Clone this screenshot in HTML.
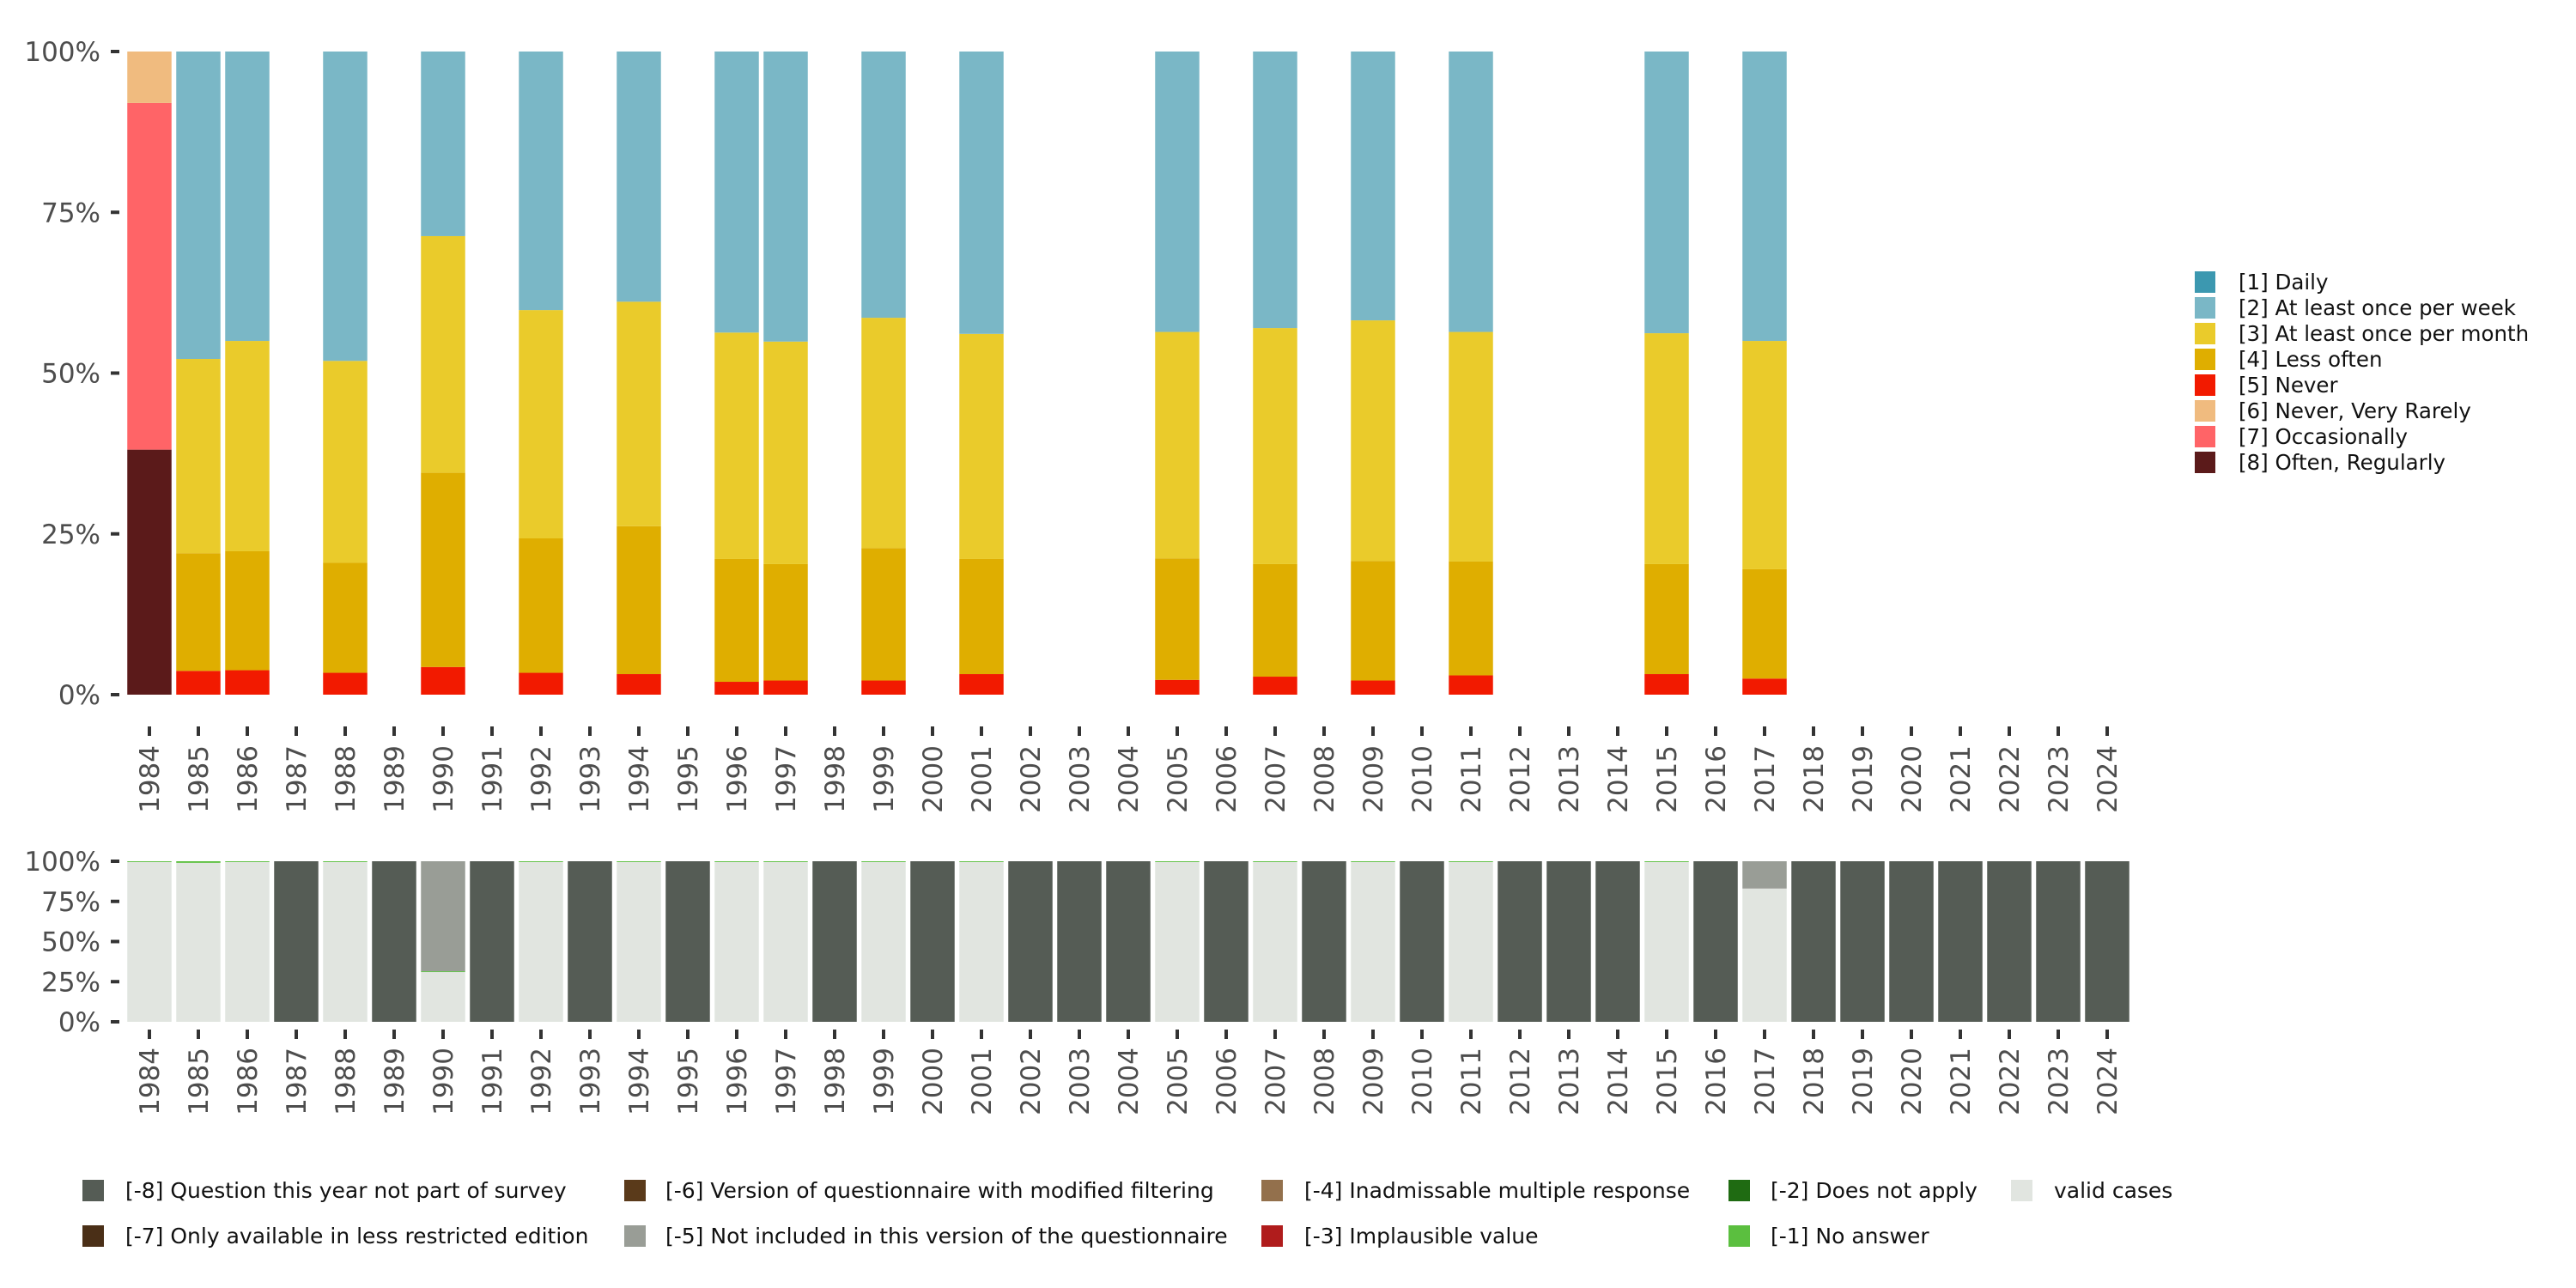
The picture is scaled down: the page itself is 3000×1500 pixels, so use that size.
<!DOCTYPE html>
<html><head><meta charset="utf-8"><style>
html,body{margin:0;padding:0;background:#fff;}
svg{display:block;font-family:"DejaVu Sans","Liberation Sans",sans-serif;}
</style></head><body>
<svg id="chart" width="3000" height="1500" viewBox="0 0 3000 1500" xmlns="http://www.w3.org/2000/svg">
<g id="top"></g>
<g id="bottom"></g>
<g id="legR"></g>
<g id="legB"></g>
</svg>
<script>
const years = [];
for (let y = 1984; y <= 2024; y++) years.push(y);
const topYears = [1984,1985,1986,1988,1990,1992,1994,1996,1997,1999,2001,2005,2007,2009,2011,2015,2017];
const sNever =      [0,3.7,3.8,3.4,4.3,3.4,3.2,2.0,2.2,2.2,3.2,2.3,2.8,2.2,3.0,3.2,2.5];
const sLessOften =  [0,18.3,18.5,17.1,30.2,20.9,23.0,19.1,18.1,20.6,17.9,18.9,17.5,18.6,17.7,17.1,17.0];
const sMonth =      [0,30.2,32.7,31.4,36.8,35.5,34.9,35.2,34.6,35.8,35.0,35.2,36.7,37.4,35.7,35.9,35.5];
const sWeek =       [0,47.8,45.0,48.1,28.7,40.2,38.9,43.7,45.1,41.4,43.9,43.6,43.0,41.8,43.6,43.8,45.0];
const sOften =      [38.1,0,0,0,0,0,0,0,0,0,0,0,0,0,0,0,0];
const sOccas =      [53.9,0,0,0,0,0,0,0,0,0,0,0,0,0,0,0,0];
const sRarely =     [8.0,0,0,0,0,0,0,0,0,0,0,0,0,0,0,0,0];
const validYears = [1984,1985,1986,1988,1990,1992,1994,1996,1997,1999,2001,2005,2007,2009,2011,2015,2017];
const validPct =   [99.5,99,99.5,99.5,31,99.5,99.5,99.5,99.5,99.5,99.5,99.5,99.5,99.5,99.5,99.5,83];
const noAnswerPct= [0.5,1,0.5,0.5,0.5,0.5,0.5,0.5,0.5,0.5,0.5,0.5,0.5,0.5,0.5,0.5,0];
const notInclPct = [0,0,0,0,68.5,0,0,0,0,0,0,0,0,0,0,0,17];
const yTicks = [0,25,50,75,100];
const yTickLabels = ["0%","25%","50%","75%","100%"];

const NS="http://www.w3.org/2000/svg";
function mk(tag, attrs, parent){const e=document.createElementNS(NS,tag);for(const k in attrs)e.setAttribute(k,attrs[k]);parent.appendChild(e);return e;}
const xC = y => 174 + (y-1984)*57;
const BW = 51.5;
const yTop = v => 809 - v*7.49;
const yBot = v => 1190 - v*1.87;

const topG=document.getElementById('top');
const botG=document.getElementById('bottom');

const stackOrder=[["never",sNever,"#f21a00"],["less-often",sLessOften,"#dfae00"],["month",sMonth,"#eacb2b"],["week",sWeek,"#7ab7c6"],["often",sOften,"#5b1a1a"],["occasionally",sOccas,"#ff6467"],["rarely",sRarely,"#f0bb7f"]];
topYears.forEach((yr,i)=>{
  let cum=0;
  const seq = [stackOrder[4],stackOrder[5],stackOrder[6],stackOrder[0],stackOrder[1],stackOrder[2],stackOrder[3]];
  seq.forEach(s=>{
    const v=s[1][i]; if(!v) return;
    const r=mk('rect',{x:xC(yr)-BW/2,y:yTop(cum+v),width:BW,height:yTop(cum)-yTop(cum+v),fill:s[2]},topG);
    
    
    cum+=v;
  });
});
function axes(g, yf, tickY, labY){
  yTicks.forEach((t,i)=>{
    const tk=mk('rect',{x:129,y:yf(t)-2,width:10,height:4,fill:'#333'},g);
    
    
    const tx=mk('text',{x:117,y:yf(t)+11,'text-anchor':'end','font-size':31,fill:'#4d4d4d'},g);
    tx.textContent=yTickLabels[i];
    
    
  });
  years.forEach(yr=>{
    const tk=mk('rect',{x:xC(yr)-2,y:tickY,width:4,height:11,fill:'#333'},g);
    
    
    const tx=mk('text',{transform:`translate(${xC(yr)+11},${labY}) rotate(-90)`,'text-anchor':'end','font-size':31,fill:'#4d4d4d'},g);
    tx.textContent=yr;
    
    
  });
}
axes(topG,yTop,846,868);
axes(botG,yBot,1199,1220);

years.forEach(yr=>{
  const i=validYears.indexOf(yr);
  let parts;
  if(i<0) parts=[["not-part",100,"#555c55"]];
  else parts=[["valid",validPct[i],"#e1e5e0"],["no-answer",noAnswerPct[i],"#5bbf3f"],["not-included",notInclPct[i],"#999d96"]];
  let cum=0;
  parts.forEach(p=>{
    if(!p[1]) return;
    const r=mk('rect',{x:xC(yr)-BW/2,y:yBot(cum+p[1]),width:BW,height:yBot(cum)-yBot(cum+p[1]),fill:p[2]},botG);
    
    
    cum+=p[1];
  });
});

const legR=document.getElementById('legR');
const rItems=[["[1] Daily","#3c98b0"],["[2] At least once per week","#7ab7c6"],["[3] At least once per month","#eacb2b"],["[4] Less often","#dfae00"],["[5] Never","#f21a00"],["[6] Never, Very Rarely","#f0bb7f"],["[7] Occasionally","#ff6467"],["[8] Often, Regularly","#5b1a1a"]];
rItems.forEach((it,i)=>{
  const g=mk('g',{},legR);
  
  
  mk('rect',{x:2556,y:316+i*30,width:24,height:25,fill:it[1]},g);
  const t=mk('text',{x:2607,y:337+i*30,'font-size':24.5,fill:'#111'},g);
  t.textContent=it[0];
});
const legB=document.getElementById('legB');
const bItems=[
 [96,146,0,"[-8] Question this year not part of survey","#555c55"],
 [96,146,1,"[-7] Only available in less restricted edition","#4a2f17"],
 [727,775,0,"[-6] Version of questionnaire with modified filtering","#5a3a1a"],
 [727,775,1,"[-5] Not included in this version of the questionnaire","#999d96"],
 [1469,1519,0,"[-4] Inadmissable multiple response","#93704c"],
 [1469,1519,1,"[-3] Implausible value","#b01c1c"],
 [2013,2062,0,"[-2] Does not apply","#1f6b12"],
 [2013,2062,1,"[-1] No answer","#5bbf3f"],
 [2342,2392,0,"valid cases","#e1e5e0"]];
bItems.forEach(it=>{
  const g=mk('g',{},legB);
  
  
  const y0=it[2]?1427:1374;
  mk('rect',{x:it[0],y:y0,width:25,height:25,fill:it[4]},g);
  const t=mk('text',{x:it[1],y:y0+21,'font-size':25,fill:'#111'},g);
  t.textContent=it[3];
});
</script>
</body></html>
